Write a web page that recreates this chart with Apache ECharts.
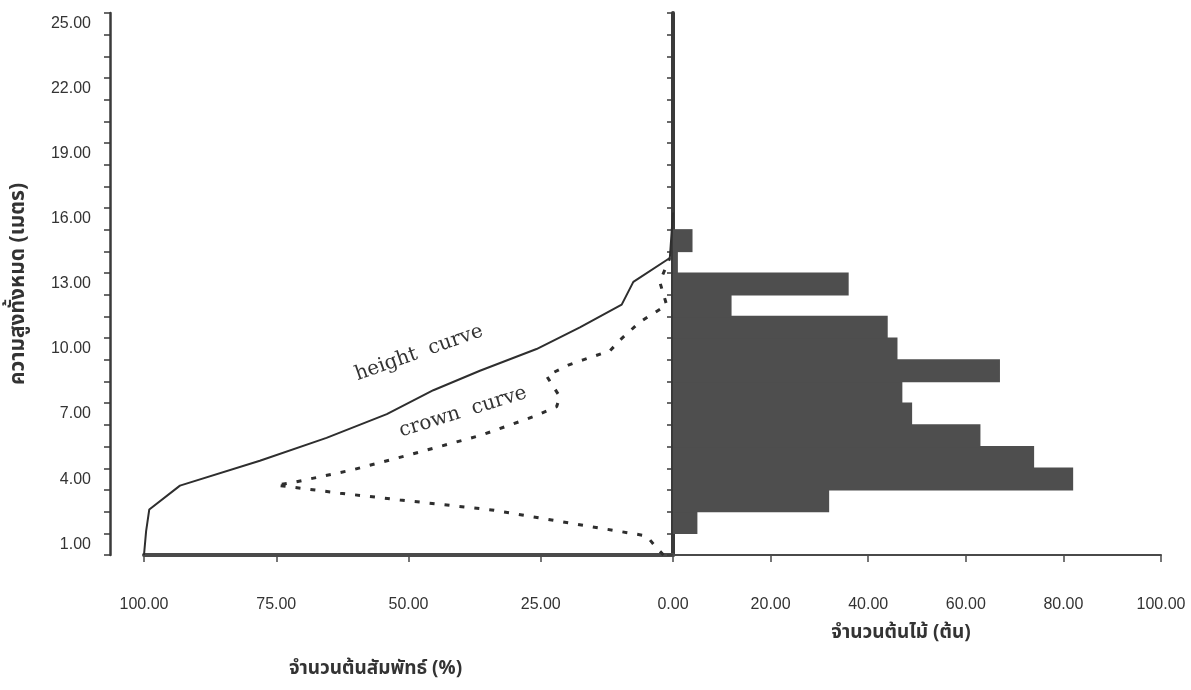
<!DOCTYPE html>
<html>
<head>
<meta charset="utf-8">
<script src="https://cdn.jsdelivr.net/npm/echarts@6/dist/echarts.min.js"></script>
<style>
  html, body { margin: 0; padding: 0; background: #ffffff; }
  #chart { width: 1191px; height: 690px; }
</style>
</head>
<body>
<div id="chart"></div>
<script>
// Height classes (category axis, metres)
const heightClasses = ['1.00','2.00','3.00','4.00','5.00','6.00','7.00','8.00','9.00','10.00',
  '11.00','12.00','13.00','14.00','15.00','16.00','17.00','18.00','19.00','20.00',
  '21.00','22.00','23.00','24.00','25.00'];
// Number of trees per height class (right histogram)
const treeCounts = [0, 5, 32, 82, 74, 63, 49, 47, 67, 46, 44, 12, 36, 1, 4, 0, 0, 0, 0, 0, 0, 0, 0, 0, 0];
// Height curve: relative number of trees (%) vs height (m)
const heightPct = [100, 99.6, 99.0, 93.2, 78.1, 65.5, 54.1, 45.3, 36.5, 25.8, 17.6, 9.7, 7.5, 0.6, 0];
const heightM   = [0.5, 1.6, 2.6, 3.7, 4.85, 5.9, 7.0, 8.1, 9.0, 10.0, 11.0, 12.05, 13.1, 14.2, 16.3];
// Crown curve
const crownPct = [1.8, 3.2, 5.0, 22.1, 34.3, 51.6, 62.9, 75.0, 72.1, 60.7, 50.0, 36.2, 26.4, 22.0, 21.4, 23.9, 19.8, 17.0, 11.9, 10.0, 6.2, 1.2, 2.5, 0.6];
const crownM   = [0.5, 0.86, 1.38, 2.08, 2.58, 3.04, 3.35, 3.72, 3.83, 4.42, 5.11, 6.03, 6.88, 7.34, 7.8, 8.76, 9.26, 9.5, 9.92, 10.42, 11.26, 12.03, 13.1, 14.2];
// Tick settings
const leftTicks = { min: 0, max: 100, interval: 25 };
const rightTicks = { min: 0, max: 100, interval: 20 };

const numFont = '"Liberation Sans Narrow", "Arial Narrow", "Liberation Sans", Arial, sans-serif';
const thaiFont = '"Noto Sans Thai", "Noto Sans", "DejaVu Sans", sans-serif';
const ink = '#333333';

const chart = echarts.init(document.getElementById('chart'), null, { renderer: 'canvas' });

const option = {
  backgroundColor: '#ffffff',
  animation: false,
  grid: [
    { left: 144, top: 13, width: 529, height: 542 },
    { left: 673, top: 13, width: 488, height: 542 }
  ],
  xAxis: [
    {
      gridIndex: 0, type: 'value', inverse: true,
      min: leftTicks.min, max: leftTicks.max, interval: leftTicks.interval,
      name: 'จำนวนต้นสัมพัทธ์ (%)', nameLocation: 'middle', nameGap: 106,
      nameTextStyle: { fontFamily: thaiFont, fontSize: 19, fontWeight: 'bold', color: ink, padding: [0, 66, 0, 0] },
      axisLine: { show: true, onZero: false, lineStyle: { color: '#4a4a4a', width: 4 } },
      axisTick: { show: true, length: 7, lineStyle: { color: '#4a4a4a', width: 1.5 } },
      axisLabel: { margin: 42, color: ink, fontFamily: numFont, fontSize: 16,
        formatter: v => (v === 0 ? '' : v.toFixed(2)) },
      splitLine: { show: false }
    },
    {
      gridIndex: 1, type: 'value',
      min: rightTicks.min, max: rightTicks.max, interval: rightTicks.interval,
      name: 'จำนวนต้นไม้ (ต้น)', nameLocation: 'middle', nameGap: 70,
      nameTextStyle: { fontFamily: thaiFont, fontSize: 19, fontWeight: 'bold', color: ink, padding: [0, 32, 0, 0] },
      axisLine: { show: true, onZero: false, lineStyle: { color: '#4a4a4a', width: 2 } },
      axisTick: { show: true, length: 7, lineStyle: { color: '#4a4a4a', width: 1.5 } },
      axisLabel: { margin: 42, color: ink, fontFamily: numFont, fontSize: 16,
        formatter: v => v.toFixed(2) },
      splitLine: { show: false }
    }
  ],
  yAxis: [
    {
      gridIndex: 0, type: 'category', data: heightClasses, offset: 34,
      name: 'ความสูงทั้งหมด (เมตร)', nameLocation: 'middle', nameGap: 80, nameRotate: 90,
      nameTextStyle: { fontFamily: thaiFont, fontSize: 21, fontWeight: 'bold', color: ink },
      axisLine: { show: true, onZero: false, lineStyle: { color: '#3a3a3a', width: 2.5 } },
      axisTick: { show: true, interval: 0, length: 6, lineStyle: { color: '#3a3a3a', width: 1.5 } },
      axisLabel: { interval: 2, margin: 19, color: ink, fontFamily: numFont, fontSize: 16 },
      splitLine: { show: false }
    },
    {
      gridIndex: 0, type: 'value', min: 0.5, max: 25.5, show: false
    },
    {
      gridIndex: 1, type: 'category', data: heightClasses,
      axisLine: { show: true, onZero: false, lineStyle: { color: '#3a3a3a', width: 4 } },
      axisTick: { show: true, interval: 0, length: 6, lineStyle: { color: '#3a3a3a', width: 1.5 } },
      axisLabel: { show: false },
      splitLine: { show: false }
    }
  ],
  graphic: [
    { type: 'text', x: 419, y: 353, rotation: 0.34,
      style: { text: 'height  curve', font: '20px "DejaVu Serif", "Liberation Serif", serif', fill: ink, align: 'center', verticalAlign: 'middle' } },
    { type: 'text', x: 463, y: 412, rotation: 0.30,
      style: { text: 'crown  curve', font: '20px "DejaVu Serif", "Liberation Serif", serif', fill: ink, align: 'center', verticalAlign: 'middle' } }
  ],
  series: [
    {
      name: 'height curve', type: 'line', xAxisIndex: 0, yAxisIndex: 1,
      data: heightPct.map((p, i) => [p, heightM[i]]),
      symbol: 'none', smooth: false,
      lineStyle: { color: '#2e2e2e', width: 2 }, z: 3
    },
    {
      name: 'crown curve', type: 'line', xAxisIndex: 0, yAxisIndex: 1,
      data: crownPct.map((p, i) => [p, crownM[i]]),
      symbol: 'none', smooth: false,
      lineStyle: { color: '#2e2e2e', width: 3, type: [5, 10] }, z: 3
    },
    {
      name: 'trees', type: 'bar', xAxisIndex: 1, yAxisIndex: 2,
      data: treeCounts, barWidth: 23,
      itemStyle: { color: '#4e4e4e' }, z: 1
    }
  ]
};
chart.setOption(option);
</script>
</body>
</html>
